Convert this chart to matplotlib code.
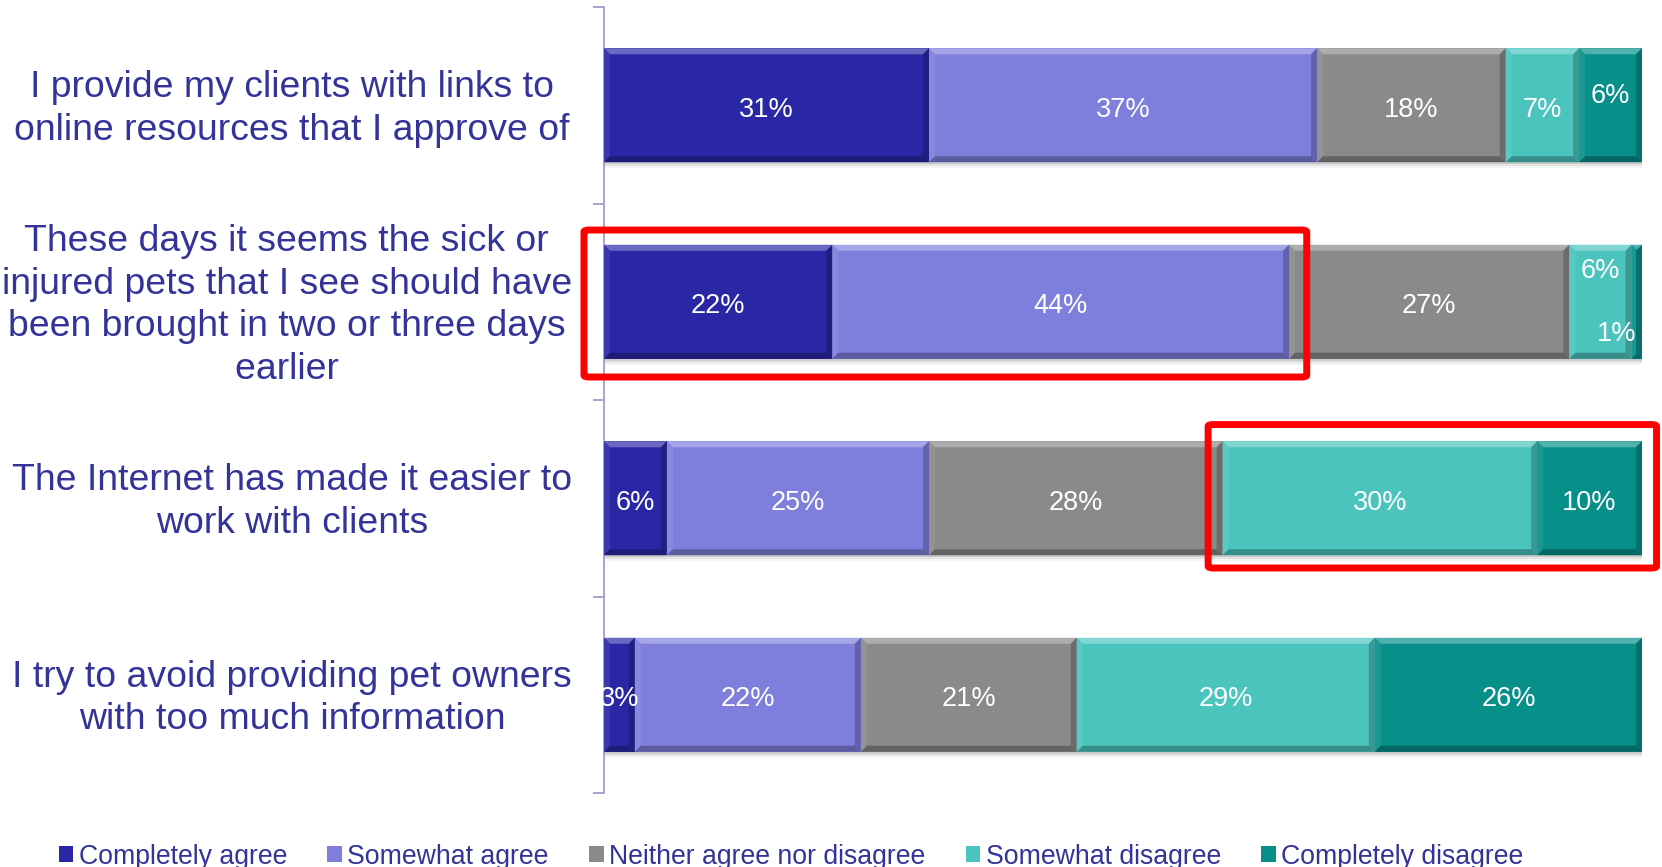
import numpy as np
import matplotlib
matplotlib.use("Agg")
import matplotlib.pyplot as plt
from matplotlib.patches import Polygon, Rectangle, FancyBboxPatch
from matplotlib.colors import to_rgb
from matplotlib.transforms import blended_transform_factory

# ---- data -------------------------------------------------------------
categories = [
    "I provide my clients with links to\nonline resources that I approve of",
    "These days it seems the sick or \ninjured pets that I see should have \nbeen brought in two or three days \nearlier ",
    "The Internet has made it easier to\nwork with clients",
    "I try to avoid providing pet owners\nwith too much information",
]
series_names = ["Completely agree", "Somewhat agree", "Neither agree nor disagree",
                "Somewhat disagree", "Completely disagree"]
completely_agree = [31, 22, 6, 3]
somewhat_agree = [37, 44, 25, 22]
neither = [18, 27, 28, 21]
somewhat_disagree = [7, 6, 30, 29]
completely_disagree = [6, 1, 10, 26]

# ---- style ------------------------------------------------------------
colors = ["#2a27a6", "#7e7edc", "#8a8a8a", "#4bc4be", "#078f8a"]
text_blue = "#333399"
axis_col = "#9d9dc9"
FONT = "Liberation Sans"

# label nudges (x offset in %, y offset in category units) for crowded segments
label_nudge = {(0, 4): (0.0, -0.07), (1, 3): (0.0, -0.18), (1, 4): (-1.9, 0.14)}

values = np.array([completely_agree, somewhat_agree, neither,
                   somewhat_disagree, completely_disagree], dtype=float)
shares = values / values.sum(axis=0) * 100.0  # 100 % stacked

W, H, DPI = 1662, 867, 100
fig = plt.figure(figsize=(W / DPI, H / DPI), dpi=DPI)
ax_l, ax_r, ax_t, ax_b = 604, 1642, 7, 793
ax = fig.add_axes([ax_l / W, 1 - ax_b / H, (ax_r - ax_l) / W, (ax_b - ax_t) / H])

n = len(categories)
y = np.arange(n)
bar_h = 0.58
ax.set_xlim(0, 100)
ax.set_ylim(n - 0.5, -0.5)

px_x = (ax_r - ax_l) / 100.0          # pixels per %
px_y = (ax_b - ax_t) / n               # pixels per category
bev = 6.0                              # bevel size in pixels
bx, by = bev / px_x, bev / px_y


def shade(c, f):
    r = np.array(to_rgb(c))
    return tuple(np.clip(r + (1 - r) * f, 0, 1)) if f > 0 else tuple(np.clip(r * (1 + f), 0, 1))


# soft drop shadow beneath each bar
for i in range(n):
    for k, a in enumerate([0.10, 0.07, 0.04]):
        off = (2 + 2 * k) / px_y
        ax.add_patch(Rectangle((0, y[i] - bar_h / 2 + off), 100, bar_h,
                               facecolor="black", alpha=a, edgecolor="none", zorder=1))

left = np.zeros(n)
handles = []
for s, name in enumerate(series_names):
    bars = ax.barh(y, shares[s], left=left, height=bar_h, color=colors[s],
                   edgecolor="none", zorder=2, label=name)
    handles.append(bars)
    for i in range(n):
        x0, x1 = left[i], left[i] + shares[s][i]
        y0, y1 = y[i] - bar_h / 2, y[i] + bar_h / 2
        c = colors[s]
        # bevel faces: top (light), left (light), right (dark), bottom (dark)
        faces = [
            ([(x0, y0), (x1, y0), (x1 - bx, y0 + by), (x0 + bx, y0 + by)], shade(c, 0.30)),
            ([(x0, y0), (x0 + bx, y0 + by), (x0 + bx, y1 - by), (x0, y1)], shade(c, 0.08)),
            ([(x1, y0), (x1, y1), (x1 - bx, y1 - by), (x1 - bx, y0 + by)], shade(c, -0.22)),
            ([(x0, y1), (x1, y1), (x1 - bx, y1 - by), (x0 + bx, y1 - by)], shade(c, -0.28)),
        ]
        for pts, fc in faces:
            ax.add_patch(Polygon(pts, closed=True, facecolor=fc, edgecolor="none", zorder=3))
        dx, dy = label_nudge.get((i, s), (0.0, 0.0))
        ax.text((x0 + x1) / 2 + dx, y[i] + dy + 0.022, f"{values[s][i]:.0f}%",
                ha="center", va="center", color="white", fontsize=19.5,
                family=FONT, zorder=5)
    left += shares[s]

# axis styling: only the left spine with category-boundary ticks
for sp in ["top", "right", "bottom"]:
    ax.spines[sp].set_visible(False)
ax.spines["left"].set_color(axis_col)
ax.spines["left"].set_linewidth(1.3)
ax.set_xticks([])
ax.set_yticks(np.arange(n + 1) - 0.5)
ax.set_yticklabels([])
ax.tick_params(axis="y", length=8, width=1.3, color=axis_col, direction="out")
ax.patch.set_visible(False)

# category labels, centred in the left margin
label_tf = blended_transform_factory(fig.transFigure, ax.transData)
for i, cat in enumerate(categories):
    ax.text(292 / W, y[i] + 0.019, cat, transform=label_tf,
            ha="center", va="center", multialignment="center", color=text_blue,
            fontsize=26.9, family=FONT, linespacing=1.28)

# highlight frames
for (x0, x1, y0, y1) in [(-1.93, 67.7, 0.635, 1.383), (58.2, 101.4, 1.625, 2.355)]:
    ax.add_patch(FancyBboxPatch((x0, y0), x1 - x0, y1 - y0,
                                boxstyle="round,pad=0,rounding_size=0.5",
                                facecolor="none", edgecolor="#ff0000", linewidth=5,
                                clip_on=False, zorder=6, mutation_aspect=0.02))

leg = fig.legend(handles=handles, labels=series_names, loc="center",
                 bbox_to_anchor=(0.476, 0.012), ncol=5, frameon=False,
                 prop={"family": FONT, "size": 19.2}, handlelength=0.55, handleheight=0.55,
                 handletextpad=0.2, columnspacing=1.51, borderaxespad=0)
for t in leg.get_texts():
    t.set_color(text_blue)

fig.savefig("out.png", dpi=DPI)
